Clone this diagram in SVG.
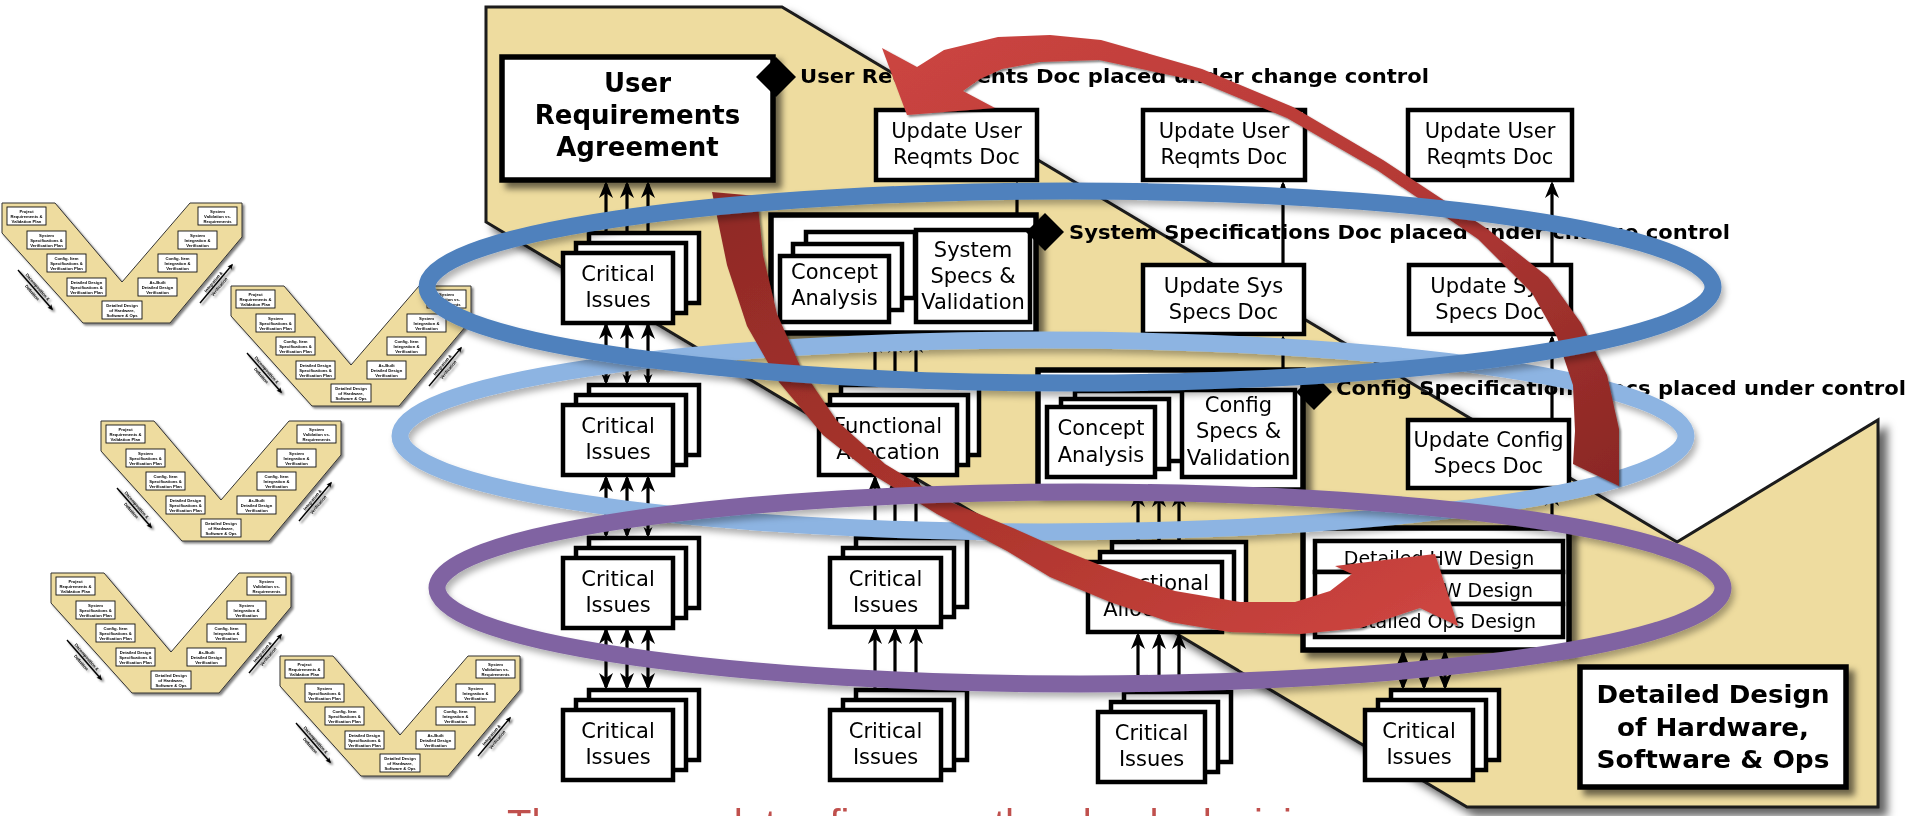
<svg xmlns="http://www.w3.org/2000/svg" width="1915" height="816" viewBox="0 0 1915 816">
<defs>
<style>
.tan{fill:#EEDC9F;stroke:#1a1a1a;stroke-width:3}
.bx{fill:#fff;stroke:#000;stroke-width:4.5}
.hv{stroke-width:5.5}
.t{font-family:"DejaVu Sans",Verdana,sans-serif;font-size:21px;text-anchor:middle;fill:#000}
.tb{font-family:"DejaVu Sans",Verdana,sans-serif;font-weight:bold;fill:#000}
.ms{font-size:20px}
.cn line{stroke:#000;stroke-width:3.2;fill:none}
.ring{fill:none;stroke-width:17}
.vt{fill:#EEDC9F;stroke:#333;stroke-width:1}
.vb rect{fill:#fff;stroke:#111;stroke-width:0.9}
.vb text,.va{font-family:"Liberation Sans",Arial,sans-serif;font-weight:bold;font-size:4.2px;text-anchor:middle;fill:#000}
.van{stroke:#000;stroke-width:1.4}
</style>
<filter id="sh" x="-10%" y="-10%" width="130%" height="135%"><feDropShadow dx="6" dy="6" stdDeviation="3" flood-color="#000" flood-opacity="0.55"/></filter>
<filter id="shT" x="-5%" y="-5%" width="115%" height="115%"><feDropShadow dx="8" dy="8" stdDeviation="4" flood-color="#000" flood-opacity="0.6"/></filter>
<filter id="shR" x="-5%" y="-20%" width="110%" height="150%"><feDropShadow dx="3" dy="5" stdDeviation="3" flood-color="#000" flood-opacity="0.3"/></filter>
<filter id="shS" x="-5%" y="-5%" width="115%" height="120%"><feDropShadow dx="2" dy="2" stdDeviation="1" flood-color="#000" flood-opacity="0.5"/></filter>
<linearGradient id="rg1" x1="0" y1="0" x2="1" y2="1"><stop offset="0" stop-color="#CC4541"/><stop offset="0.5" stop-color="#B63A36"/><stop offset="1" stop-color="#8A2724"/></linearGradient>
<linearGradient id="rg2" x1="0" y1="0" x2="1" y2="1"><stop offset="0" stop-color="#8E2926"/><stop offset="0.6" stop-color="#B1372F"/><stop offset="1" stop-color="#D04642"/></linearGradient>
<marker id="ah" viewBox="-16 -8 20 16" markerWidth="20" markerHeight="16" refX="0" refY="0" orient="auto-start-reverse" markerUnits="userSpaceOnUse"><path d="M3,0 L-14,-7 L-9,0 L-14,7 Z" fill="#000"/></marker>
<marker id="as" viewBox="-10 -5 14 10" markerWidth="14" markerHeight="10" refX="0" refY="0" orient="auto-start-reverse" markerUnits="userSpaceOnUse"><path d="M3,0 L-8,-4.5 L-5,0 L-8,4.5 Z" fill="#000"/></marker>
<marker id="tah" viewBox="-5 -3 7 6" markerWidth="7" markerHeight="6" refX="0" refY="0" orient="auto" markerUnits="userSpaceOnUse"><path d="M1.5,0 L-4,-2.5 L-3,0 L-4,2.5 Z" fill="#000"/></marker>
<!-- small Vee life-cycle thumbnail -->
<g id="vee">
<polygon class="vt" points="0,0 53,0 120,79 188,0 240,0 240,34 168,120 81,120 0,30"/>
<g class="vb"><rect x="5" y="4" width="39" height="18"/><text x="24.5" y="9.6">Project</text><text x="24.5" y="14.6">Requirements &amp;</text><text x="24.5" y="19.6">Validation Plan</text></g>
<g class="vb"><rect x="25" y="28" width="39" height="18"/><text x="44.5" y="33.6">System</text><text x="44.5" y="38.6">Specifications &amp;</text><text x="44.5" y="43.6">Verification Plan</text></g>
<g class="vb"><rect x="45" y="51" width="39" height="18"/><text x="64.5" y="56.6">Config. Item</text><text x="64.5" y="61.6">Specifications &amp;</text><text x="64.5" y="66.6">Verification Plan</text></g>
<g class="vb"><rect x="65" y="75" width="39" height="18"/><text x="84.5" y="80.6">Detailed Design</text><text x="84.5" y="85.6">Specifications &amp;</text><text x="84.5" y="90.6">Verification Plan</text></g>
<g class="vb"><rect x="100" y="98" width="40" height="18"/><text x="120" y="103.6">Detailed Design</text><text x="120" y="108.6">of Hardware,</text><text x="120" y="113.6">Software &amp; Ops</text></g>
<g class="vb"><rect x="136" y="75" width="39" height="18"/><text x="155.5" y="80.6">As-Built</text><text x="155.5" y="85.6">Detailed Design</text><text x="155.5" y="90.6">Verification</text></g>
<g class="vb"><rect x="156" y="51" width="39" height="18"/><text x="175.5" y="56.6">Config. Item</text><text x="175.5" y="61.6">Integration &amp;</text><text x="175.5" y="66.6">Verification</text></g>
<g class="vb"><rect x="176" y="28" width="39" height="18"/><text x="195.5" y="33.6">System</text><text x="195.5" y="38.6">Integration &amp;</text><text x="195.5" y="43.6">Verification</text></g>
<g class="vb"><rect x="196" y="4" width="39" height="18"/><text x="215.5" y="9.6">System</text><text x="215.5" y="14.6">Validation vs.</text><text x="215.5" y="19.6">Requirements</text></g>
<line class="van" x1="16" y1="67" x2="50" y2="106" marker-end="url(#tah)"/>
<line class="van" x1="198" y1="100" x2="230" y2="62" marker-end="url(#tah)"/>
<text class="va" transform="translate(34.6,85) rotate(48.9)">Decomposition &amp;</text>
<text class="va" transform="translate(29,90.5) rotate(48.9)">Definition</text>
<text class="va" transform="translate(212.6,79.8) rotate(-49.9)">Integration &amp;</text>
<text class="va" transform="translate(218.4,84.8) rotate(-49.9)">Verification</text>
</g>
</defs>

<rect width="1915" height="816" fill="#fff"/>

<!-- thumbnails of the Vee model -->
<g id="thumbnails" filter="url(#shS)">
<use href="#vee" x="2" y="203"/>
<use href="#vee" x="231" y="286"/>
<use href="#vee" x="101" y="421"/>
<use href="#vee" x="51" y="573"/>
<use href="#vee" x="280" y="656"/>
</g>

<!-- large Vee backdrop -->
<polygon id="vee-backdrop" class="tan" filter="url(#shT)" points="486,7 782,7 1677,542 1878,420 1878,807 1467,807 486,222"/>

<text id="caption" x="507" y="838" font-family="'Liberation Sans',Arial,sans-serif" font-size="40" fill="#C0504D">The user updates firmware then loads decisions</text>

<!-- nodes -->
<g id="ura" filter="url(#sh)">
<rect class="bx hv" x="502" y="57" width="271" height="123"/>
<text class="tb" font-size="26" text-anchor="middle" x="637.5" y="92">User</text>
<text class="tb" font-size="26" text-anchor="middle" x="637.5" y="124">Requirements</text>
<text class="tb" font-size="26" text-anchor="middle" x="637.5" y="156">Agreement</text>
</g>

<g id="ci-a1"><rect class="bx" x="589" y="233" width="110" height="70"/><rect class="bx" x="576" y="243" width="110" height="70"/><rect class="bx" x="563" y="253" width="110" height="70"/><text class="t" x="618" y="281">Critical</text><text class="t" x="618" y="307">Issues</text></g>
<g id="ci-a2"><rect class="bx" x="589" y="385" width="110" height="70"/><rect class="bx" x="576" y="395" width="110" height="70"/><rect class="bx" x="563" y="405" width="110" height="70"/><text class="t" x="618" y="433">Critical</text><text class="t" x="618" y="459">Issues</text></g>
<g id="ci-a3"><rect class="bx" x="589" y="538" width="110" height="70"/><rect class="bx" x="576" y="548" width="110" height="70"/><rect class="bx" x="563" y="558" width="110" height="70"/><text class="t" x="618" y="586">Critical</text><text class="t" x="618" y="612">Issues</text></g>
<g id="ci-a4"><rect class="bx" x="589" y="690" width="110" height="70"/><rect class="bx" x="576" y="700" width="110" height="70"/><rect class="bx" x="563" y="710" width="110" height="70"/><text class="t" x="618" y="738">Critical</text><text class="t" x="618" y="764">Issues</text></g>

<g id="upd-user-1"><rect class="bx" x="876" y="110" width="161" height="70"/><text class="t" x="956.5" y="138">Update User</text><text class="t" x="956.5" y="164">Reqmts Doc</text></g>
<g id="upd-user-2"><rect class="bx" x="1143" y="110" width="162" height="70"/><text class="t" x="1224" y="138">Update User</text><text class="t" x="1224" y="164">Reqmts Doc</text></g>
<g id="upd-user-3"><rect class="bx" x="1408" y="110" width="164" height="70"/><text class="t" x="1490" y="138">Update User</text><text class="t" x="1490" y="164">Reqmts Doc</text></g>
<g id="upd-sys-1"><rect class="bx" x="1143" y="265" width="161" height="69"/><text class="t" x="1223.5" y="293">Update Sys</text><text class="t" x="1223.5" y="319">Specs Doc</text></g>
<g id="upd-sys-2"><rect class="bx" x="1409" y="265" width="162" height="69"/><text class="t" x="1490" y="293">Update Sys</text><text class="t" x="1490" y="319">Specs Doc</text></g>
<g id="upd-config"><rect class="bx" x="1408" y="420" width="161" height="68"/><text class="t" x="1488.5" y="447">Update Config</text><text class="t" x="1488.5" y="473">Specs Doc</text></g>

<g id="system-block">
<rect class="bx hv" x="771" y="215" width="265" height="118" filter="url(#sh)"/>
<rect class="bx" x="806" y="232" width="109" height="66"/><rect class="bx" x="793" y="244" width="109" height="66"/><rect class="bx" x="780" y="256" width="109" height="66"/>
<text class="t" x="834.5" y="279">Concept</text><text class="t" x="834.5" y="305">Analysis</text>
<rect class="bx" x="916" y="230" width="114" height="92"/>
<text class="t" x="973" y="257">System</text><text class="t" x="973" y="283">Specs &amp;</text><text class="t" x="973" y="309">Validation</text>
</g>

<g id="fa-b"><rect class="bx" x="841" y="385" width="138" height="70"/><rect class="bx" x="830" y="395" width="138" height="70"/><rect class="bx" x="819" y="405" width="138" height="70"/><text class="t" x="888" y="433">Functional</text><text class="t" x="888" y="459">Allocation</text></g>
<g id="ci-b3"><rect class="bx" x="856" y="538" width="111" height="69"/><rect class="bx" x="843" y="548" width="111" height="69"/><rect class="bx" x="830" y="558" width="111" height="69"/><text class="t" x="885.5" y="586">Critical</text><text class="t" x="885.5" y="612">Issues</text></g>
<g id="ci-b4"><rect class="bx" x="856" y="690" width="111" height="70"/><rect class="bx" x="843" y="700" width="111" height="70"/><rect class="bx" x="830" y="710" width="111" height="70"/><text class="t" x="885.5" y="738">Critical</text><text class="t" x="885.5" y="764">Issues</text></g>

<g id="config-block">
<rect class="bx hv" x="1038" y="370" width="265" height="120" filter="url(#sh)"/>
<rect class="bx" x="1075" y="391" width="108" height="70"/><rect class="bx" x="1061" y="399" width="108" height="70"/><rect class="bx" x="1047" y="407" width="108" height="70"/>
<text class="t" x="1101" y="435">Concept</text><text class="t" x="1101" y="462">Analysis</text>
<rect class="bx" x="1182" y="390" width="113" height="87"/>
<text class="t" x="1238.5" y="412">Config</text><text class="t" x="1238.5" y="438">Specs &amp;</text><text class="t" x="1238.5" y="465">Validation</text>
</g>

<g id="fa-c"><rect class="bx" x="1112" y="542" width="134" height="70"/><rect class="bx" x="1100" y="552" width="134" height="70"/><rect class="bx" x="1088" y="562" width="134" height="70"/><text class="t" x="1155" y="590">Functional</text><text class="t" x="1155" y="616">Allocation</text></g>
<g id="ci-c4"><rect class="bx" x="1124" y="692" width="107" height="70"/><rect class="bx" x="1111" y="702" width="107" height="70"/><rect class="bx" x="1098" y="712" width="107" height="70"/><text class="t" x="1151.5" y="740">Critical</text><text class="t" x="1151.5" y="766">Issues</text></g>

<g id="detailed-block">
<rect class="bx hv" x="1303" y="528" width="266" height="122" filter="url(#sh)"/>
<rect class="bx" x="1315" y="541" width="248" height="31"/>
<rect class="bx" x="1315" y="572" width="248" height="32"/>
<rect class="bx" x="1315" y="604" width="248" height="33"/>
<text class="t" x="1439" y="565" style="font-size:19px">Detailed HW Design</text>
<text class="t" x="1439" y="597" style="font-size:19px">Detailed SW Design</text>
<text class="t" x="1439" y="628" style="font-size:19px">Detailed Ops Design</text>
</g>
<g id="ci-d4"><rect class="bx" x="1391" y="690" width="108" height="70"/><rect class="bx" x="1378" y="700" width="108" height="70"/><rect class="bx" x="1365" y="710" width="108" height="70"/><text class="t" x="1419" y="738">Critical</text><text class="t" x="1419" y="764">Issues</text></g>

<g id="dd-hw-sw-ops" filter="url(#sh)">
<rect class="bx hv" x="1580" y="667" width="266" height="120"/>
<text class="tb" font-size="24" text-anchor="middle" x="1713" y="703" textLength="233" lengthAdjust="spacingAndGlyphs">Detailed Design</text>
<text class="tb" font-size="24" text-anchor="middle" x="1713" y="736" textLength="192" lengthAdjust="spacingAndGlyphs">of Hardware,</text>
<text class="tb" font-size="24" text-anchor="middle" x="1713" y="768" textLength="233" lengthAdjust="spacingAndGlyphs">Software &amp; Ops</text>
</g>

<!-- connectors -->
<g id="connectors" class="cn">
<line x1="606" y1="232" x2="606" y2="184" marker-end="url(#ah)"/>
<line x1="627" y1="232" x2="627" y2="184" marker-end="url(#ah)"/>
<line x1="648" y1="232" x2="648" y2="184" marker-end="url(#ah)"/>
<line x1="606" y1="382" x2="606" y2="325" marker-start="url(#as)" marker-end="url(#ah)"/>
<line x1="627" y1="382" x2="627" y2="325" marker-start="url(#as)" marker-end="url(#ah)"/>
<line x1="648" y1="382" x2="648" y2="325" marker-start="url(#as)" marker-end="url(#ah)"/>
<line x1="606" y1="535" x2="606" y2="478" marker-start="url(#as)" marker-end="url(#ah)"/>
<line x1="627" y1="535" x2="627" y2="478" marker-start="url(#as)" marker-end="url(#ah)"/>
<line x1="648" y1="535" x2="648" y2="478" marker-start="url(#as)" marker-end="url(#ah)"/>
<line x1="606" y1="687" x2="606" y2="630" marker-start="url(#ah)" marker-end="url(#ah)"/>
<line x1="627" y1="687" x2="627" y2="630" marker-start="url(#ah)" marker-end="url(#ah)"/>
<line x1="648" y1="687" x2="648" y2="630" marker-start="url(#ah)" marker-end="url(#ah)"/>
<line x1="875" y1="385" x2="875" y2="339" marker-end="url(#ah)"/>
<line x1="895" y1="385" x2="895" y2="339" marker-end="url(#ah)"/>
<line x1="916" y1="385" x2="916" y2="339" marker-end="url(#ah)"/>
<line x1="875" y1="538" x2="875" y2="478" marker-end="url(#ah)"/>
<line x1="895" y1="538" x2="895" y2="478" marker-end="url(#ah)"/>
<line x1="916" y1="538" x2="916" y2="478" marker-end="url(#ah)"/>
<line x1="875" y1="690" x2="875" y2="630" marker-end="url(#ah)"/>
<line x1="895" y1="690" x2="895" y2="630" marker-end="url(#ah)"/>
<line x1="916" y1="690" x2="916" y2="630" marker-end="url(#ah)"/>
<line x1="1138" y1="540" x2="1138" y2="493" marker-start="url(#ah)" marker-end="url(#ah)"/>
<line x1="1159" y1="540" x2="1159" y2="493" marker-start="url(#ah)" marker-end="url(#ah)"/>
<line x1="1179" y1="540" x2="1179" y2="493" marker-start="url(#ah)" marker-end="url(#ah)"/>
<line x1="1138" y1="692" x2="1138" y2="635" marker-end="url(#ah)"/>
<line x1="1159" y1="692" x2="1159" y2="635" marker-end="url(#ah)"/>
<line x1="1179" y1="692" x2="1179" y2="635" marker-end="url(#ah)"/>
<line x1="1403" y1="687" x2="1403" y2="653" marker-start="url(#ah)" marker-end="url(#ah)"/>
<line x1="1424" y1="687" x2="1424" y2="653" marker-start="url(#ah)" marker-end="url(#ah)"/>
<line x1="1445" y1="687" x2="1445" y2="653" marker-start="url(#ah)" marker-end="url(#ah)"/>
<line x1="1017" y1="215" x2="1017" y2="184" marker-end="url(#as)"/>
<line x1="1283" y1="265" x2="1283" y2="184" marker-end="url(#as)"/>
<line x1="1283" y1="370" x2="1283" y2="338" marker-end="url(#as)"/>
<line x1="1552" y1="265" x2="1552" y2="184" marker-end="url(#ah)"/>
<line x1="1552" y1="420" x2="1552" y2="338" marker-end="url(#as)"/>
<line x1="1552" y1="528" x2="1552" y2="492" marker-end="url(#ah)"/>
</g>

<!-- baseline milestones -->
<g id="milestones">
<polygon points="776,57 796,77 776,97 756,77" fill="#000"/>
<text class="tb ms" x="800" y="83" textLength="629" lengthAdjust="spacingAndGlyphs">User Requirements Doc placed under change control</text>
<polygon points="1045,213 1064,232 1045,251 1026,232" fill="#000"/>
<text class="tb ms" x="1069" y="239" textLength="661" lengthAdjust="spacingAndGlyphs">System Specifications Doc placed under change control</text>
<polygon points="1314,374 1332,392 1314,410 1296,392" fill="#000"/>
<text class="tb ms" x="1336" y="395" textLength="570" lengthAdjust="spacingAndGlyphs">Config Specification Specs placed under control</text>
</g>

<!-- iteration loops and update arrows -->
<ellipse id="loop-config" class="ring" filter="url(#shR)" cx="1043" cy="436" rx="643" ry="96" stroke="#8DB4E2"/>
<g id="update-arrows">
<path id="arrow-up" filter="url(#shS)" fill="url(#rg1)" d="M1573,464 L1575,431 L1573,385 L1557,337 L1532,293 L1478,239 L1377,170 L1287,118 L1198,81 L1099,60 L1040,62 L1002,69 L980,79 L963,91 L995,108 L907,115 L882,48 L917,67 L944,50 L998,37 L1050,35 L1101,40 L1202,69 L1293,107 L1383,160 L1486,228 L1548,277 L1581,323 L1607,375 L1619,429 L1619,486 Z"/>
<path id="arrow-down" filter="url(#shS)" fill="url(#rg2)" d="M757,196 L763,255 L777,314 L801,368 L837,421 L885,464 L943,499 L1013,528 L1060,549 L1110,569 L1175,591 L1240,602 L1295,602 L1330,591 L1352,574 L1335,566 L1435,554 L1458,626 L1420,608 L1360,628 L1300,634 L1230,632 L1170,622 L1110,602 L1050,577 L1007,551 L937,514 L875,476 L823,435 L779,382 L747,326 L727,265 L712,192 Z"/>
</g>
<ellipse id="loop-system" class="ring" filter="url(#shR)" cx="1070" cy="287" rx="643" ry="96" stroke="#4F81BD"/>
<ellipse id="loop-detail" class="ring" filter="url(#shR)" cx="1080" cy="588" rx="643" ry="96" stroke="#8064A2"/>
</svg>
